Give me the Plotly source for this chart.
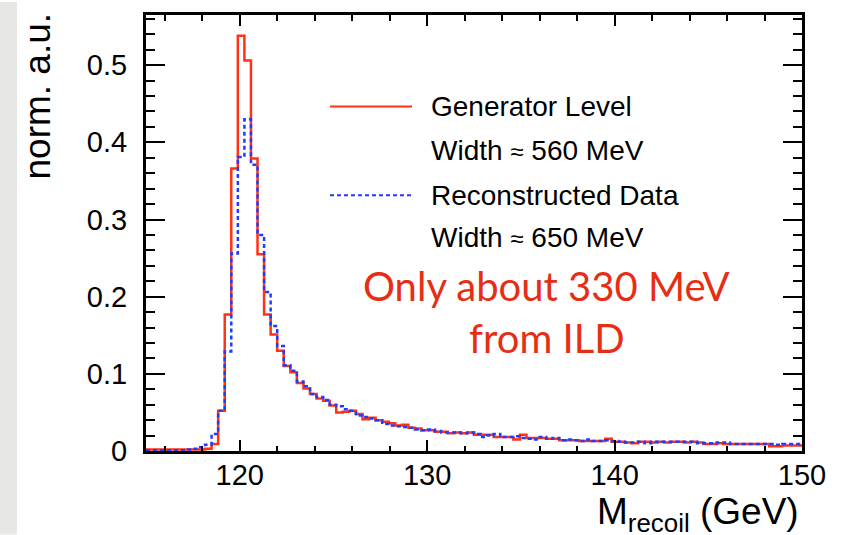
import plotly.graph_objects as go

# ---------------- data ----------------
x_min = 115.0
x_max = 150.0
bin_width = 0.35

gen_level = [
    0.002, 0.002, 0.002, 0.002, 0.002, 0.002, 0.002, 0.002, 0.002, 0.003,
    0.009, 0.052, 0.177, 0.366, 0.538, 0.506, 0.379, 0.255, 0.177, 0.151, 0.130, 0.110,
    0.102, 0.088, 0.081, 0.074, 0.068, 0.065, 0.059, 0.050, 0.051, 0.052, 0.048, 0.041,
    0.043, 0.040, 0.038, 0.036, 0.033, 0.034, 0.030, 0.029, 0.027, 0.027, 0.025, 0.025,
    0.023, 0.024,
    0.023, 0.024, 0.021, 0.021, 0.021, 0.018, 0.018, 0.018, 0.015, 0.021, 0.017, 0.017,
    0.017, 0.016, 0.016, 0.014, 0.014, 0.014, 0.013, 0.013, 0.013, 0.013, 0.016, 0.012,
    0.012, 0.011, 0.010,
    0.012, 0.012, 0.011, 0.012, 0.011, 0.012, 0.012, 0.011, 0.012, 0.011,
    0.009, 0.009, 0.010, 0.009, 0.009, 0.009, 0.009, 0.009, 0.009, 0.009,
    0.006, 0.006, 0.007, 0.007, 0.007,
]

reco_data = [
    0.001, 0.001, 0.001, 0.001, 0.001, 0.001, 0.002, 0.003, 0.005, 0.008,
    0.022, 0.052, 0.129, 0.256, 0.381, 0.430, 0.371, 0.280, 0.206, 0.162, 0.136, 0.111,
    0.104, 0.090, 0.084, 0.074, 0.070, 0.066, 0.060, 0.058, 0.054, 0.052, 0.046, 0.044,
    0.042, 0.040, 0.035, 0.033, 0.032, 0.031, 0.030, 0.028, 0.027, 0.028, 0.026, 0.024,
    0.024, 0.024,
    0.023, 0.024, 0.022, 0.018, 0.020, 0.022, 0.018, 0.018, 0.019, 0.017, 0.016, 0.015,
    0.018, 0.016, 0.017, 0.014, 0.015, 0.014, 0.013, 0.015, 0.013, 0.013, 0.014, 0.013,
    0.012, 0.011, 0.011,
    0.012, 0.010, 0.012, 0.012, 0.012, 0.012, 0.012, 0.012, 0.012, 0.010,
    0.010, 0.010, 0.011, 0.011, 0.009, 0.009, 0.009, 0.009, 0.009, 0.009,
    0.009, 0.008, 0.009, 0.009, 0.009,
]

approx = '<span style="font-size:24px">≈</span>'
legend_labels = ["Generator Level", f"Width {approx} 560 MeV",
                 "Reconstructed Data", f"Width {approx} 650 MeV"]
note_lines = ["Only about 330 MeV", "from ILD"]
x_title = "M<sub>recoil</sub> (GeV)"
y_title = "norm. a.u."

# ---------------- layout helpers ----------------
W, H = 843, 535
L, R, T, B = 146, 41, 13, 84
PW, PH = W - L - R, H - T - B


def px(x):
    return (x - L) / PW


def py(y):
    return (H - B - y) / PH


RED = "#ff3314"
BLUE = "#1f3cff"
NOTE_RED = "#e62e14"
FONT = "Liberation Sans, Arial, Helvetica, sans-serif"

n_bins = len(gen_level)
edges = [x_min + i * bin_width for i in range(n_bins + 1)]

fig = go.Figure()
fig.add_trace(go.Scatter(
    x=edges, y=gen_level + [gen_level[-1]], mode="lines",
    line=dict(shape="hv", color=RED, width=2.5),
    showlegend=False, hoverinfo="skip"))
fig.add_trace(go.Scatter(
    x=edges, y=reco_data + [reco_data[-1]], mode="lines",
    line=dict(shape="hv", color=BLUE, width=2.5, dash="4px,3px"),
    showlegend=False, hoverinfo="skip"))

axis_common = dict(
    showline=True, linecolor="black", linewidth=3, mirror="allticks",
    ticks="inside", tickcolor="black", tickwidth=2,
    showgrid=False, zeroline=False,
    tickfont=dict(family=FONT, size=29, color="black"),
)

fig.update_xaxes(range=[x_min, x_max], dtick=10, tick0=0, ticklen=11,
                 minor=dict(ticks="inside", dtick=2, tick0=0, ticklen=5.5,
                            tickcolor="black", tickwidth=2),
                 ticklabelstandoff=-4, **axis_common)
fig.update_yaxes(range=[0, 0.565], dtick=0.1, tick0=0, ticklen=19,
                 minor=dict(ticks="inside", dtick=0.02, tick0=0, ticklen=9,
                            tickcolor="black", tickwidth=2),
                 ticklabelstandoff=10, **axis_common)

shapes = [
    dict(type="rect", xref="paper", yref="paper", x0=px(0), x1=px(17), y0=py(H), y1=py(0),
         fillcolor="#e7e7e4", line=dict(width=0), layer="below"),
    dict(type="line", xref="paper", yref="paper", x0=px(330), x1=px(412), y0=py(105), y1=py(105),
         line=dict(color=RED, width=2)),
    dict(type="line", xref="paper", yref="paper", x0=px(330), x1=px(412), y0=py(194), y1=py(194),
         line=dict(color=BLUE, width=2, dash="4px,3px")),
]

annotations = []
for lab, yc in zip(legend_labels, [104.5, 149, 194, 236.5]):
    annotations.append(dict(text=lab, xref="paper", yref="paper", x=px(429), y=py(yc),
                            xanchor="left", yanchor="middle", showarrow=False,
                            font=dict(family=FONT, size=28, color="black")))
for line, yc in zip(note_lines, [285, 337.5]):
    annotations.append(dict(text=line, xref="paper", yref="paper", x=px(546.5), y=py(yc),
                            xanchor="center", yanchor="middle", showarrow=False,
                            font=dict(family="Lato, sans-serif", size=40, color=NOTE_RED)))
annotations.append(dict(text=x_title, xref="paper", yref="paper", x=px(801), y=py(514),
                        xanchor="right", yanchor="middle", showarrow=False,
                        font=dict(family=FONT, size=37, color="black")))
annotations.append(dict(text=y_title, xref="paper", yref="paper", x=px(38), y=py(9),
                        xanchor="center", yanchor="top", textangle=-90, showarrow=False,
                        font=dict(family=FONT, size=37, color="black")))

fig.update_layout(
    width=W, height=H,
    margin=dict(l=L, r=R, t=T, b=B),
    paper_bgcolor="white", plot_bgcolor="white",
    shapes=shapes, annotations=annotations,
    showlegend=False,
)

fig.write_html("out.html", config={"displayModeBar": False},
               post_script="document.body.style.margin='0px';document.body.style.padding='0px';")
